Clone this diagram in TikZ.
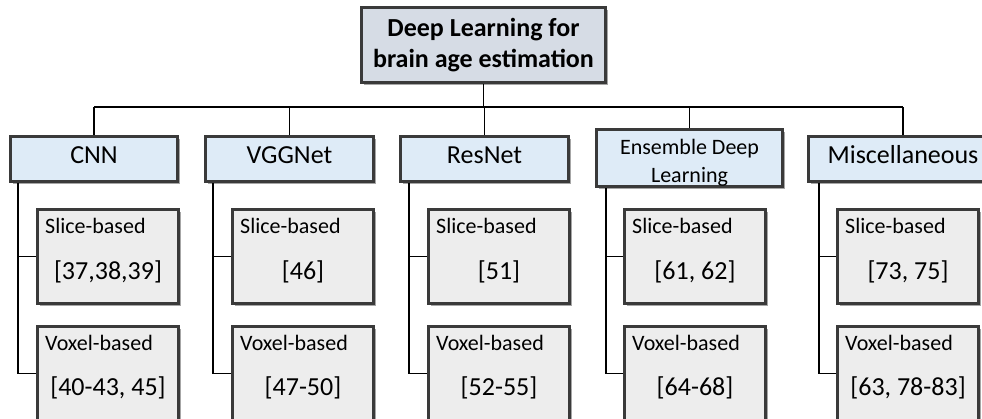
\documentclass[tikz,border=0pt]{standalone}
\usepackage{fontspec}
\setmainfont{Carlito}
\usetikzlibrary{shadows,calc}
\definecolor{rootfill}{HTML}{D6DCE5}
\definecolor{catfill}{HTML}{DEEBF7}
\definecolor{leaffill}{HTML}{EDEDED}
\definecolor{bord}{HTML}{3A3A3A}
\begin{document}
\begin{tikzpicture}[x=1pt,y=-1pt,
  boxbase/.style={draw=bord, line width=3.4pt, inner sep=0pt, anchor=north west,
    drop shadow={shadow xshift=2.5pt,shadow yshift=-2.5pt,opacity=0.35,fill=black}},
  rootbox/.style={boxbase, fill=rootfill, align=center,
    font=\fontsize{26}{31}\selectfont\bfseries},
  catbox/.style={boxbase, fill=catfill, minimum height=44.6pt,
    font=\fontsize{26}{31}\selectfont, text height=18pt, text depth=8pt},
  enscat/.style={boxbase, fill=catfill, align=center,
    font=\fontsize{22}{28}\selectfont, text height=50pt, text depth=0pt},
  leafbox/.style={boxbase, fill=leaffill, minimum width=140.6pt, minimum height=93.6pt},
  kind/.style={anchor=base west, inner sep=0pt, font=\fontsize{22}{26}\selectfont},
  refs/.style={anchor=base, inner sep=0pt, font=\fontsize{26}{31}\selectfont},
  link/.style={line width=1.6pt, black}]
\useasboundingbox (0,0) rectangle (982,419);
\clip (0,0) rectangle (982,419);

% root
\node[rootbox, minimum width=243.6pt, minimum height=74.6pt] (root) at (360,6)
  {Deep Learning for\\brain age estimation};

% categories
\node[catbox, minimum width=166.6pt] (cnn)  at (9,135)   {CNN};
\node[catbox, minimum width=167.6pt] (vgg)  at (204,135) {VGGNet};
\node[catbox, minimum width=167.6pt] (res)  at (399,135) {ResNet};
\node[enscat, minimum width=185.6pt, minimum height=56.6pt] (ens) at (595,128)
  {Ensemble Deep\\Learning};
\node[catbox, minimum width=188.6pt] (misc) at (807,135) {Miscellaneous};

% bus
\coordinate (bus) at (0,107);
\draw[link] (root.south) -- (root.south |- bus);
\draw[link] (cnn.north |- bus) -- (misc.north |- bus);
\foreach \n in {cnn,vgg,res,ens,misc}
  \draw[link] (\n.north) -- (\n.north |- bus);

% leaves
\foreach \n/\x/\s/\v in {cnn/36/{[37,38,39]}/{[40-43, 45]},
                         vgg/231/{[46]}/{[47-50]},
                         res/427/{[51]}/{[52-55]},
                         ens/623/{[61, 62]}/{[64-68]},
                         misc/836/{[73, 75]}/{[63, 78-83]}}{
  \node[leafbox] (\n S) at (\x,208) {};
  \node[leafbox] (\n V) at (\x,325) {};
  \node[kind] (\n Sk) at ($(\n S.north west)+(9,26)$) {Slice-based};
  \node[refs] (\n Sr) at ($(\n S.north)+(0,72)$) {\s};
  \node[kind] (\n Vk) at ($(\n V.north west)+(9,26)$) {Voxel-based};
  \node[refs] (\n Vr) at ($(\n V.north)+(0,70)$) {\v};
}

% stems from categories to leaves
\foreach \n/\d in {cnn/9,vgg/9,res/10,ens/11,misc/12}{
  \coordinate (\n stem) at ($(\n.south west)+(\d,0)$);
  \draw[link] (\n stem) |- (\n S.west);
  \draw[link] (\n stem) |- (\n V.west);
}
\end{tikzpicture}
\end{document}
